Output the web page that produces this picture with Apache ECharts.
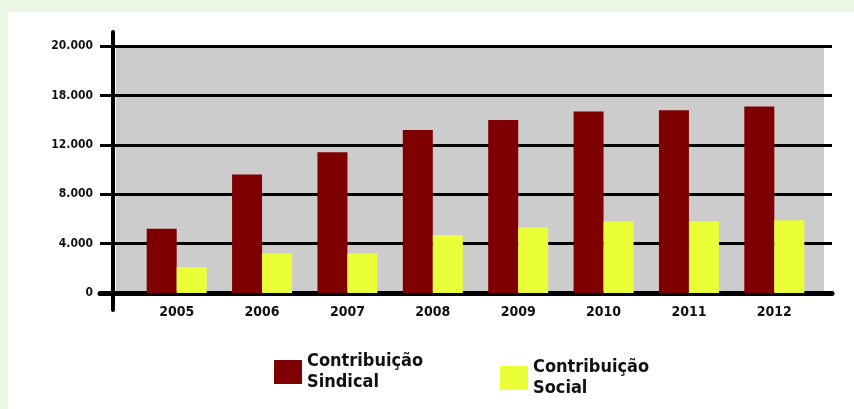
<!DOCTYPE html>
<html>
<head>
<meta charset="utf-8">
<script src="https://cdn.jsdelivr.net/npm/echarts@6/dist/echarts.min.js"></script>
<style>
  html, body { margin: 0; padding: 0; background: #edf7e6; }
  #chart { position: absolute; left: 8px; top: 12px; width: 846px; height: 397px; background: #fff; }
</style>
</head>
<body>
<div id="chart"></div>
<script>
var anos = ['2005', '2006', '2007', '2008', '2009', '2010', '2011', '2012'];
var sindical = [5200, 9600, 11400, 13200, 14000, 14700, 14800, 15100];
var social = [2100, 3200, 3200, 4700, 5300, 5800, 5800, 5900];
var yLabels = ['0', '4.000', '8.000', '12.000', '18.000', '20.000'];

var font = "'DejaVu Sans Condensed', 'Liberation Sans Narrow', sans-serif";
var myChart = echarts.init(document.getElementById('chart'));
myChart.setOption({
    grid: [
        // grid lines (starting left of the axis like ticks) and labels
        { left: 92, right: 22, top: 34, bottom: 116 },
        // gray plot background
        { left: 108, right: 30, top: 36, bottom: 116, show: true, backgroundColor: '#cccccc', borderWidth: 0 },
        // bars
        { left: 126, right: 37, top: 34, bottom: 116 },
        // long vertical axis line
        { left: 105, right: 22, top: 20, bottom: 99 }
    ],
    legend: [{
        data: ['Contribuição Sindical'],
        left: 261, top: 334, icon: 'rect',
        itemWidth: 28, itemHeight: 24, itemGap: 10,
        formatter: function (n) { return n.replace(' ', '\n'); },
        textStyle: { fontFamily: font, fontWeight: 'bold', fontSize: 18, lineHeight: 21, color: '#111' }
    }, {
        data: ['Contribuição Social'],
        left: 487, top: 340, icon: 'rect',
        itemWidth: 28, itemHeight: 24, itemGap: 10,
        formatter: function (n) { return n.replace(' ', '\n'); },
        textStyle: { fontFamily: font, fontWeight: 'bold', fontSize: 18, lineHeight: 21, color: '#111' }
    }],
    xAxis: [{
        gridIndex: 0, type: 'category', data: anos,
        axisLine: { lineStyle: { color: '#000', width: 5 } },
        axisTick: { show: false }, axisLabel: { show: false }
    }, {
        gridIndex: 1, type: 'category', data: anos, show: false
    }, {
        gridIndex: 2, type: 'category', data: anos,
        axisLine: { show: false }, axisTick: { show: false },
        axisLabel: { margin: 12, fontFamily: font, fontWeight: 'bold', fontSize: 14, color: '#111' }
    }, {
        gridIndex: 3, type: 'category', data: anos, show: false
    }],
    yAxis: [{
        gridIndex: 0, type: 'value', min: 0, max: 20000, interval: 4000,
        axisLine: { show: false },
        axisTick: { show: false },
        axisLabel: {
            margin: 7, fontFamily: font, fontWeight: 'bold', fontSize: 12, color: '#111',
            formatter: function (v) { return yLabels[Math.round(v / 4000)]; }
        },
        splitLine: { lineStyle: { color: '#000', width: 3 } }
    }, {
        gridIndex: 1, type: 'value', min: 0, max: 20000, show: false, splitLine: { show: false }
    }, {
        gridIndex: 2, type: 'value', min: 0, max: 20000, show: false, splitLine: { show: false }
    }, {
        gridIndex: 3, type: 'value', min: 0, max: 20000, splitLine: { show: false },
        axisLine: { show: true, lineStyle: { color: '#000', width: 4 } },
        axisTick: { show: false }, axisLabel: { show: false }
    }],
    series: [{
        name: 'Contribuição Sindical', type: 'bar', xAxisIndex: 2, yAxisIndex: 2,
        data: sindical, barWidth: 30, barGap: '0%',
        itemStyle: { color: '#7f0000' }
    }, {
        name: 'Contribuição Social', type: 'bar', xAxisIndex: 2, yAxisIndex: 2,
        data: social, barWidth: 30, barGap: '0%',
        itemStyle: { color: '#eaff38' }
    }]
});
</script>
</body>
</html>
